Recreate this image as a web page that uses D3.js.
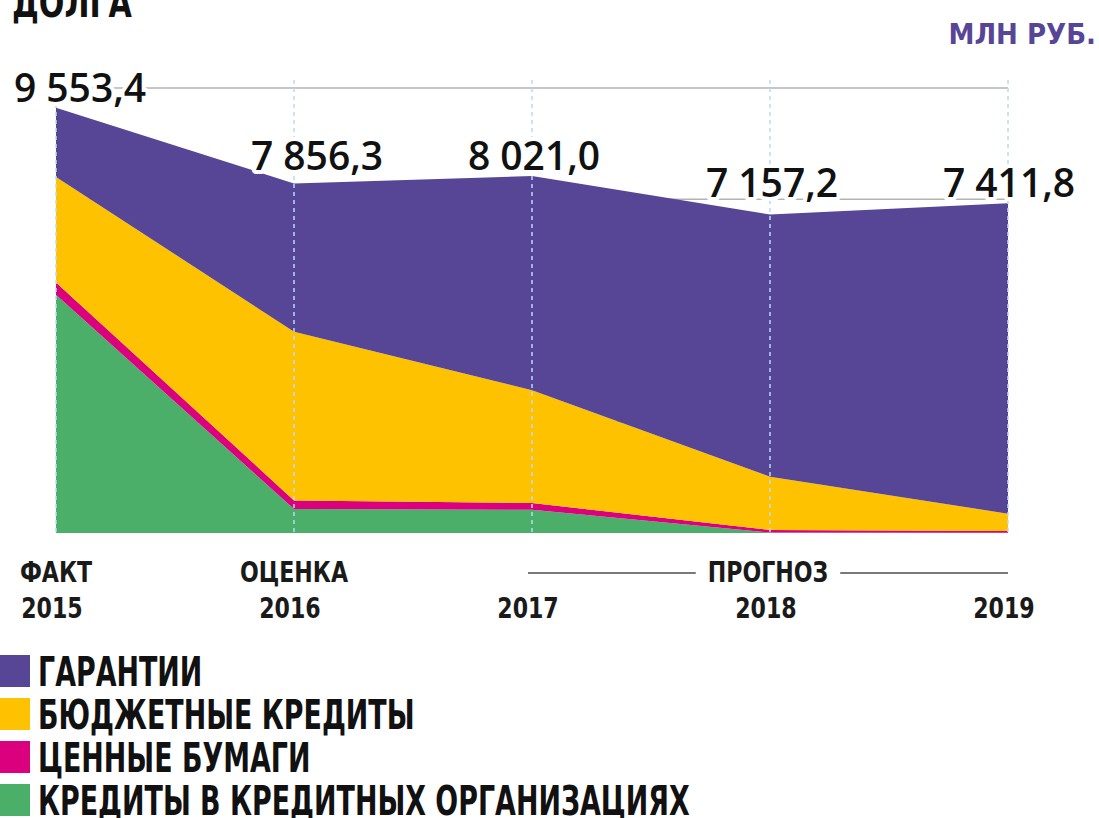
<!DOCTYPE html>
<html>
<head>
<meta charset="utf-8">
<script src="https://cdn.jsdelivr.net/npm/d3@7"></script>
<style>
  body { margin: 0; background: #fff; }
  svg { display: block; }
  .narrow { font-family: "Liberation Sans Narrow", "DejaVu Sans Condensed", "Roboto", sans-serif; }
</style>
</head>
<body>
<div id="chart"></div>
<script>
// debt structure, mln rub, stacked from bottom to top
const years         = ["2015", "2016", "2017", "2018", "2019"]
const stages        = ["ФАКТ", "ОЦЕНКА", "", "", ""]
const forecastLabel = "ПРОГНОЗ"
const bankCredits   = [5356.0, 539.0, 523.0, 10.0, 5.0]
const securities    = [276.0, 193.0, 150.0, 60.0, 40.0]
const budgetCredits = [2369.0, 3792.0, 2535.0, 1196.0, 389.0]
const guarantees    = [1552.4, 3332.3, 4813.0, 5891.2, 6977.8]
const totals        = [9553.4, 7856.3, 8021.0, 7157.2, 7411.8]
const yTicks        = [2500, 5000, 7500, 10000]

const keys   = ["bank", "sec", "budget", "guar"]
const names  = { guar: "ГАРАНТИИ", budget: "БЮДЖЕТНЫЕ КРЕДИТЫ", sec: "ЦЕННЫЕ БУМАГИ", bank: "КРЕДИТЫ В КРЕДИТНЫХ ОРГАНИЗАЦИЯХ" }
const colors = { guar: "#574696", budget: "#fec200", sec: "#db007d", bank: "#4baf6a" }

const rows = years.map((yr, i) => ({
  year: yr, bank: bankCredits[i], sec: securities[i], budget: budgetCredits[i], guar: guarantees[i]
}))

const W = 1099, H = 818
const svg = d3.select("#chart").append("svg").attr("width", W).attr("height", H)

const x = d3.scalePoint().domain(years).range([56, 1008])
const y = d3.scaleLinear().domain([0, 10000]).range([533, 88])

// squeeze one text horizontally around its anchor point
function squeeze(t, k) {
  const ax = +t.attr("x"), ay = +t.attr("y")
  t.attr("transform", `translate(${ax},${ay}) scale(${k},1) translate(${-ax},${-ay})`)
}

// squeeze a selection so the widest item hits the target width
function condense(sel, target) {
  const widest = d3.max(sel.nodes(), n => n.getComputedTextLength())
  const k = Math.min(1, target / widest)
  sel.each(function () { squeeze(d3.select(this), k) })
  return k
}

// horizontal gridlines sit behind the areas
svg.append("g").selectAll("line")
  .data(yTicks).join("line")
  .attr("x1", x(years[0])).attr("x2", x(years[years.length - 1]))
  .attr("y1", d => y(d)).attr("y2", d => y(d))
  .attr("stroke", "#b3b3b3").attr("stroke-width", 1.6)

// stacked areas
const stacked = d3.stack().keys(keys)(rows)
const area = d3.area()
  .x(d => x(d.data.year))
  .y0(d => y(d[0]))
  .y1(d => y(d[1]))

svg.append("g").selectAll("path")
  .data(stacked).join("path")
  .attr("d", area)
  .attr("fill", d => colors[d.key])

// dashed year guides on top of the areas
svg.append("g").selectAll("line")
  .data(years).join("line")
  .attr("x1", d => x(d)).attr("x2", d => x(d))
  .attr("y1", y(10000) - 8).attr("y2", y(0))
  .attr("stroke", "#b7dbf5").attr("stroke-width", 1.5)
  .attr("stroke-dasharray", "4,4")

// total labels, neighbouring years share a baseline
const groups = [[0], [1, 2], [3, 4]]
const labelDx = [24, 23, 2, 2, 1]
const fmt = d3.formatLocale({ decimal: ",", thousands: " ", grouping: [3] }).format(",.1f")
const baseOf = i => {
  const g = groups.find(g => g.includes(i))
  return y(d3.max(g, j => totals[j])) - 6
}
svg.append("g").selectAll("text")
  .data(totals).join("text")
  .attr("x", (d, i) => x(years[i]) + labelDx[i])
  .attr("y", (d, i) => baseOf(i))
  .attr("text-anchor", "middle")
  .style("font-family", "'Open Sans', sans-serif")
  .style("font-size", "39px").style("font-weight", 600)
  .attr("fill", "#111")
  .attr("stroke", "#fff").attr("stroke-width", 8).attr("paint-order", "stroke")
  .attr("stroke-linejoin", "round")
  .text(d => fmt(d))

// x axis: stage row and year row
const stageT = svg.append("g").selectAll("text")
  .data(stages).join("text")
  .attr("class", "narrow")
  .attr("x", (d, i) => x(years[i])).attr("y", 582)
  .attr("text-anchor", "middle")
  .style("font-size", "28px").style("font-weight", "bold")
  .attr("fill", "#1a1a1a")
  .text(d => d)
const kAxis = condense(stageT.filter(d => d === "ОЦЕНКА"), 108)
stageT.filter(d => d !== "ОЦЕНКА").each(function () { squeeze(d3.select(this), kAxis) })

svg.append("g").selectAll("text")
  .data(years).join("text")
  .attr("class", "narrow")
  .attr("x", d => x(d) - 4).attr("y", 618)
  .attr("text-anchor", "middle")
  .style("font-size", "28px").style("font-weight", "bold")
  .attr("fill", "#1a1a1a")
  .text(d => d)
  .each(function () { squeeze(d3.select(this), kAxis) })

// forecast bracket over 2017-2019
const fx0 = x(years[2]) - 4, fx1 = x(years[4])
const fmid = (fx0 + fx1) / 2
const fT = svg.append("text")
  .attr("class", "narrow")
  .attr("x", fmid).attr("y", 582)
  .attr("text-anchor", "middle")
  .style("font-size", "28px").style("font-weight", "bold")
  .attr("fill", "#1a1a1a")
  .text(forecastLabel)
squeeze(fT, kAxis)
const fw = fT.node().getComputedTextLength() * kAxis
svg.append("g").selectAll("line")
  .data([[fx0, fmid - fw / 2 - 12], [fmid + fw / 2 + 12, fx1]]).join("line")
  .attr("x1", d => d[0]).attr("x2", d => d[1])
  .attr("y1", 573).attr("y2", 573)
  .attr("stroke", "#7a7a7a").attr("stroke-width", 2)

// unit label top right
const unitT = svg.append("text")
  .attr("class", "narrow")
  .attr("x", 1096).attr("y", 44)
  .attr("text-anchor", "end")
  .style("font-size", "29px").style("font-weight", "bold")
  .attr("fill", "#574696")
  .text("МЛН РУБ.")
condense(unitT, 154)

// title tail, cut by the top edge
const titleT = svg.append("text")
  .attr("class", "narrow")
  .attr("x", 12).attr("y", 17)
  .style("font-size", "40px").style("font-weight", "bold")
  .attr("fill", "#111")
  .text("ДОЛГА")
condense(titleT, 120)

// legend, top layer first
const legendKeys = keys.slice().reverse()
const lg = svg.append("g").attr("transform", "translate(0,655)")
lg.selectAll("rect")
  .data(legendKeys).join("rect")
  .attr("x", 0).attr("y", (d, i) => i * 43)
  .attr("width", 30).attr("height", 32)
  .attr("fill", d => colors[d])
const legT = lg.selectAll("text")
  .data(legendKeys).join("text")
  .attr("class", "narrow")
  .attr("x", 38).attr("y", (d, i) => i * 43 + 31)
  .style("font-size", "41px").style("font-weight", "bold")
  .attr("fill", "#111")
  .text(d => names[d])
condense(legT, 652)
</script>
</body>
</html>
